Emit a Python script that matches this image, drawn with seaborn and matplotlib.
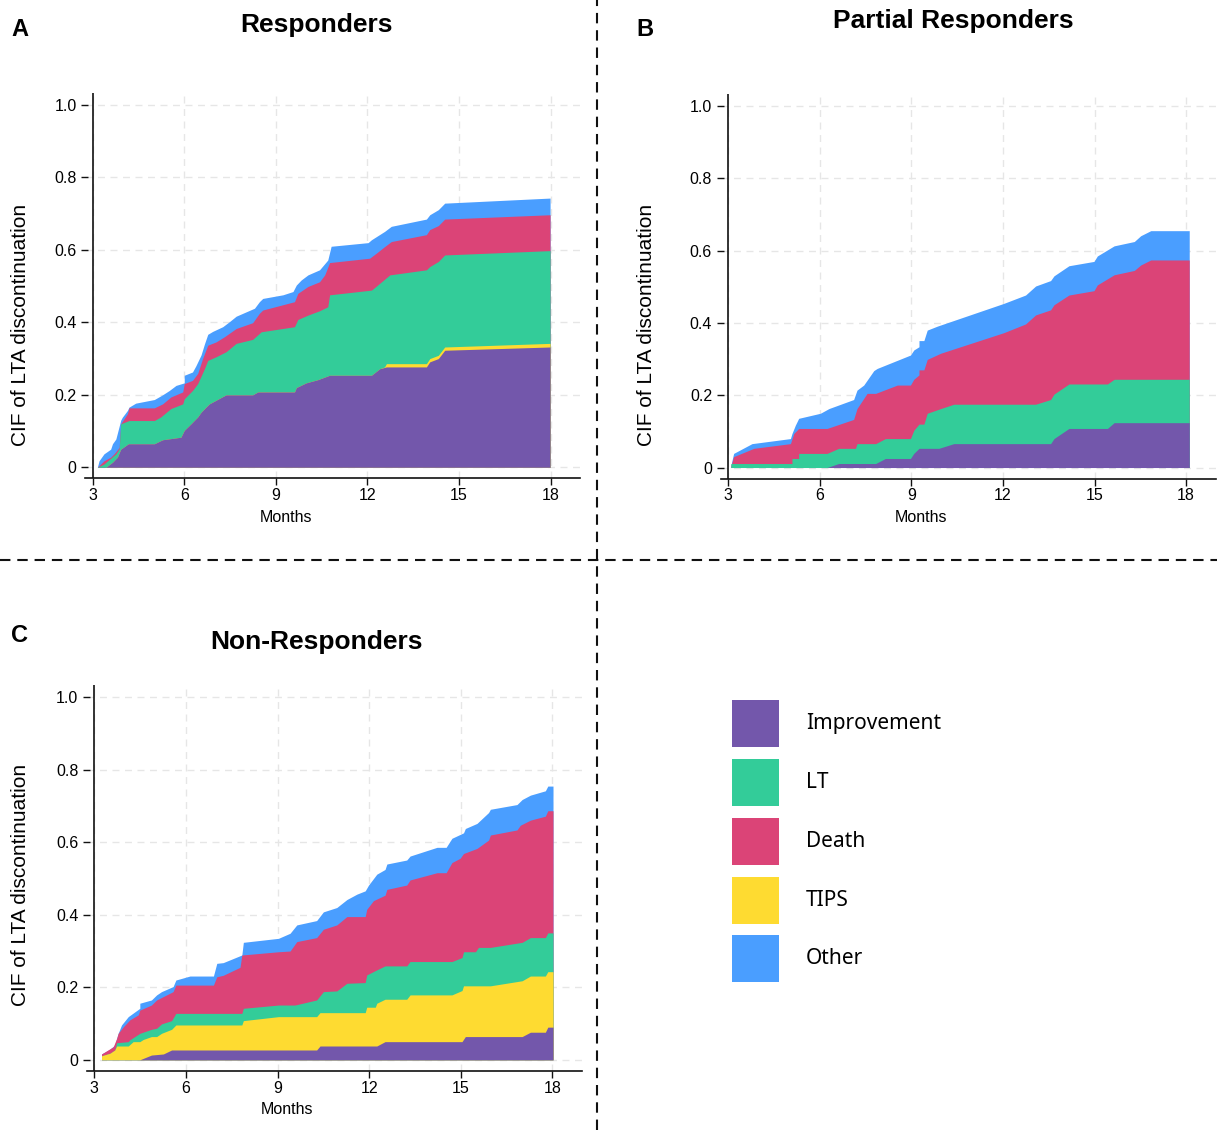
import matplotlib
matplotlib.use("Agg")
import matplotlib.pyplot as plt
import seaborn as sns
from matplotlib.patches import Rectangle
from matplotlib.lines import Line2D

# ---------------------------------------------------------------- data
# Each list holds (month, stacked upper edge of that cause's band).
# Stack from bottom: Improvement, TIPS, LT, Death, Other.

# Panel A - Responders
resp_other = [(3.155, 0), (3.21, 0.018), (3.37, 0.037), (3.59, 0.05), (3.65, 0.065), (3.76, 0.078),
              (3.92, 0.13), (3.97, 0.138), (4.14, 0.157), (4.19, 0.166), (4.41, 0.177), (5.02, 0.187),
              (5.29, 0.2), (5.51, 0.212), (5.73, 0.226), (6.0, 0.233), (6.0, 0.254), (6.27, 0.263),
              (6.38, 0.28), (6.55, 0.31), (6.66, 0.34), (6.77, 0.367), (6.93, 0.375), (7.26, 0.388),
              (7.48, 0.402), (7.70, 0.417), (8.30, 0.439), (8.46, 0.457), (8.57, 0.466), (9.23, 0.476),
              (9.56, 0.485), (9.67, 0.503), (9.83, 0.517), (10.05, 0.531), (10.43, 0.545), (10.70, 0.572),
              (10.81, 0.61), (12.02, 0.62), (12.13, 0.628), (12.56, 0.651), (12.78, 0.665), (13.93, 0.685),
              (14.04, 0.697), (14.32, 0.711), (14.53, 0.729), (17.98, 0.743)]
resp_death = [(3.155, 0), (3.37, 0.018), (3.59, 0.028), (3.70, 0.037), (3.87, 0.055), (3.92, 0.12),
              (4.14, 0.148), (4.19, 0.164), (5.02, 0.164), (5.29, 0.175), (5.56, 0.194), (5.95, 0.208),
              (6.0, 0.231), (6.27, 0.24), (6.44, 0.259), (6.60, 0.30), (6.77, 0.337), (7.04, 0.346),
              (7.31, 0.36), (7.70, 0.383), (8.24, 0.399), (8.46, 0.425), (8.57, 0.434), (9.61, 0.457),
              (9.72, 0.48), (10.05, 0.499), (10.43, 0.512), (10.60, 0.531), (10.76, 0.565), (12.07, 0.577),
              (12.29, 0.591), (12.56, 0.609), (12.78, 0.623), (13.93, 0.642), (14.04, 0.656),
              (14.32, 0.667), (14.53, 0.685), (17.98, 0.697)]
resp_lt = [(3.155, 0), (3.37, 0.009), (3.76, 0.037), (3.87, 0.051), (3.92, 0.12), (4.19, 0.129),
           (5.02, 0.129), (5.23, 0.139), (5.56, 0.162), (5.95, 0.175), (6.0, 0.189), (6.27, 0.212),
           (6.44, 0.231), (6.66, 0.272), (6.77, 0.295), (7.04, 0.305), (7.37, 0.319), (7.70, 0.342),
           (8.24, 0.353), (8.52, 0.374), (9.61, 0.388), (9.72, 0.408), (10.05, 0.42), (10.43, 0.432),
           (10.70, 0.443), (10.76, 0.476), (12.13, 0.489), (12.29, 0.50), (12.73, 0.531), (13.93, 0.545),
           (14.04, 0.554), (14.32, 0.568), (14.53, 0.586), (17.98, 0.598)]
resp_tips = [(3.43, 0), (3.65, 0.014), (3.81, 0.028), (3.92, 0.05), (4.17, 0.065), (5.02, 0.065),
             (5.29, 0.076), (5.89, 0.083), (6.0, 0.102), (6.22, 0.12), (6.44, 0.139), (6.55, 0.152),
             (6.71, 0.166), (6.82, 0.175), (7.37, 0.2), (8.24, 0.2), (8.41, 0.208), (9.61, 0.208),
             (9.67, 0.22), (9.99, 0.233), (10.38, 0.242), (10.76, 0.254), (12.13, 0.254), (12.40, 0.272),
             (12.56, 0.277), (12.62, 0.286), (13.93, 0.286), (14.04, 0.30), (14.32, 0.309),
             (14.53, 0.332), (17.98, 0.342)]
resp_improvement = [(3.43, 0), (3.65, 0.014), (3.81, 0.028), (3.92, 0.05), (4.17, 0.065), (5.02, 0.065),
                    (5.29, 0.076), (5.89, 0.083), (6.0, 0.102), (6.22, 0.12), (6.44, 0.139), (6.55, 0.152),
                    (6.71, 0.166), (6.82, 0.175), (7.37, 0.2), (8.24, 0.2), (8.41, 0.208), (9.61, 0.208),
                    (9.67, 0.22), (9.99, 0.233), (10.38, 0.242), (10.76, 0.254), (12.13, 0.254),
                    (12.40, 0.272), (12.62, 0.277), (13.93, 0.277), (14.04, 0.291), (14.32, 0.30),
                    (14.53, 0.323), (17.98, 0.332)]

# Panel B - Partial Responders
partial_other = [(3.09, 0.006), (3.18, 0.039), (3.78, 0.066), (5.04, 0.08), (5.09, 0.094), (5.20, 0.117),
                 (5.31, 0.136), (6.02, 0.15), (6.30, 0.163), (7.11, 0.188), (7.22, 0.214), (7.44, 0.228),
                 (7.77, 0.268), (7.88, 0.274), (8.97, 0.311), (9.08, 0.325), (9.25, 0.334), (9.25, 0.351),
                 (9.41, 0.351), (9.52, 0.38), (9.85, 0.391), (12.03, 0.454), (12.74, 0.477), (13.07, 0.502),
                 (13.56, 0.517), (13.67, 0.53), (14.16, 0.558), (14.98, 0.57), (15.09, 0.585),
                 (15.64, 0.613), (16.30, 0.625), (16.51, 0.641), (16.84, 0.655), (18.1, 0.655)]
partial_death = [(3.09, 0.004), (3.18, 0.03), (3.84, 0.053), (5.04, 0.066), (5.15, 0.094), (5.31, 0.108),
                 (6.24, 0.108), (7.11, 0.133), (7.22, 0.163), (7.55, 0.205), (7.83, 0.205), (8.54, 0.228),
                 (8.97, 0.228), (9.08, 0.244), (9.25, 0.256), (9.25, 0.27), (9.41, 0.27), (9.52, 0.299),
                 (9.96, 0.316), (12.03, 0.373), (12.74, 0.397), (13.07, 0.422), (13.56, 0.436),
                 (13.67, 0.45), (14.16, 0.477), (14.98, 0.489), (15.09, 0.505), (15.64, 0.533),
                 (16.30, 0.545), (16.51, 0.56), (16.84, 0.574), (18.1, 0.574)]
partial_lt = [(3.09, 0.011), (5.09, 0.011), (5.09, 0.025), (5.31, 0.025), (5.31, 0.039), (6.24, 0.039),
              (6.62, 0.053), (7.17, 0.053), (7.22, 0.066), (7.83, 0.066), (8.15, 0.08), (8.97, 0.08),
              (9.08, 0.103), (9.25, 0.12), (9.41, 0.12), (9.52, 0.15), (9.96, 0.163), (10.39, 0.175),
              (13.07, 0.175), (13.56, 0.188), (13.67, 0.203), (14.16, 0.231), (15.42, 0.231),
              (15.64, 0.244), (18.1, 0.244)]
partial_tips = []
partial_improvement = [(6.24, 0), (6.62, 0.011), (7.83, 0.011), (8.15, 0.025), (8.97, 0.025), (9.08, 0.039),
                       (9.25, 0.053), (9.90, 0.053), (10.39, 0.066), (13.56, 0.066), (13.67, 0.08),
                       (14.16, 0.108), (15.42, 0.108), (15.64, 0.124), (18.1, 0.124)]

# Panel C - Non-Responders
nonresp_other = [(3.235, 0.016), (3.51, 0.029), (3.67, 0.041), (3.78, 0.073), (3.89, 0.096), (4.11, 0.119),
                 (4.49, 0.142), (4.49, 0.156), (4.87, 0.165), (5.04, 0.179), (5.20, 0.188), (5.58, 0.202),
                 (5.67, 0.22), (6.13, 0.231), (6.90, 0.231), (7.01, 0.266), (7.22, 0.268), (7.83, 0.289),
                 (7.88, 0.324), (9.03, 0.335), (9.41, 0.349), (9.63, 0.372), (10.28, 0.384), (10.50, 0.408),
                 (10.94, 0.42), (11.27, 0.442), (11.60, 0.457), (11.87, 0.466), (11.98, 0.482),
                 (12.25, 0.512), (12.52, 0.525), (12.58, 0.54), (13.23, 0.551), (13.34, 0.562),
                 (14.22, 0.586), (14.52, 0.586), (14.71, 0.611), (15.09, 0.626), (15.15, 0.638),
                 (15.53, 0.652), (15.91, 0.682), (15.97, 0.691), (16.84, 0.704), (17.01, 0.718),
                 (17.28, 0.73), (17.77, 0.742), (17.85, 0.755), (18.02, 0.755)]
nonresp_death = [(3.235, 0.016), (3.62, 0.036), (3.73, 0.059), (3.78, 0.073), (3.95, 0.091), (4.16, 0.11),
                 (4.44, 0.124), (4.49, 0.137), (4.87, 0.151), (5.04, 0.165), (5.58, 0.188), (5.67, 0.206),
                 (6.90, 0.206), (7.01, 0.229), (7.22, 0.233), (7.77, 0.255), (7.83, 0.289), (9.03, 0.298),
                 (9.41, 0.30), (9.63, 0.326), (10.28, 0.337), (10.50, 0.36), (10.94, 0.372), (11.27, 0.395),
                 (11.87, 0.395), (11.92, 0.415), (12.14, 0.439), (12.52, 0.454), (12.58, 0.47),
                 (13.23, 0.482), (13.34, 0.496), (14.22, 0.516), (14.52, 0.516), (14.71, 0.544),
                 (14.98, 0.556), (15.09, 0.569), (15.53, 0.583), (15.91, 0.606), (15.97, 0.62),
                 (16.84, 0.634), (16.95, 0.647), (17.28, 0.661), (17.77, 0.672), (17.85, 0.687),
                 (18.02, 0.687)]
nonresp_lt = [(3.235, 0.011), (3.51, 0.018), (3.67, 0.027), (3.73, 0.047), (4.11, 0.05), (4.16, 0.055),
              (4.49, 0.073), (4.87, 0.084), (5.04, 0.087), (5.20, 0.099), (5.53, 0.108), (5.67, 0.128),
              (7.83, 0.128), (7.88, 0.142), (9.03, 0.151), (9.57, 0.151), (10.28, 0.165), (10.50, 0.188),
              (10.94, 0.19), (11.27, 0.211), (11.87, 0.213), (11.92, 0.234), (12.20, 0.246),
              (12.52, 0.259), (13.23, 0.259), (13.34, 0.271), (14.71, 0.271), (15.04, 0.282),
              (15.09, 0.298), (15.48, 0.298), (15.58, 0.31), (15.97, 0.31), (17.01, 0.324),
              (17.28, 0.337), (17.77, 0.337), (17.85, 0.35), (18.02, 0.35)]
nonresp_tips = [(3.235, 0.011), (3.51, 0.018), (3.67, 0.027), (3.73, 0.038), (4.11, 0.038), (4.27, 0.05),
                (4.49, 0.05), (4.60, 0.056), (4.87, 0.064), (5.04, 0.064), (5.20, 0.073), (5.53, 0.084),
                (5.67, 0.096), (7.83, 0.096), (7.88, 0.108), (9.03, 0.119), (10.28, 0.119), (10.39, 0.13),
                (11.87, 0.13), (11.92, 0.145), (12.20, 0.145), (12.25, 0.156), (12.52, 0.167),
                (13.23, 0.167), (13.34, 0.179), (14.71, 0.179), (15.04, 0.191), (15.09, 0.204),
                (15.97, 0.204), (17.01, 0.218), (17.28, 0.231), (17.77, 0.231), (17.85, 0.243),
                (18.02, 0.243)]
nonresp_improvement = [(4.49, 0), (4.87, 0.013), (5.26, 0.016), (5.53, 0.027), (10.28, 0.027),
                       (10.39, 0.038), (12.25, 0.038), (12.52, 0.05), (15.04, 0.05), (15.15, 0.064),
                       (17.01, 0.064), (17.28, 0.076), (17.77, 0.076), (17.85, 0.09), (18.02, 0.09)]

causes = ["Improvement", "LT", "Death", "TIPS", "Other"]
panel_titles = ["Responders", "Partial Responders", "Non-Responders"]
panel_letters = ["A", "B", "C"]
x_ticks = [3, 6, 9, 12, 15, 18]
y_ticks = [0, 0.2, 0.4, 0.6, 0.8, 1.0]
y_tick_labels = ["0", "0.2", "0.4", "0.6", "0.8", "1.0"]
x_label = "Months"
y_label = "CIF of LTA discontinuation"

# ---------------------------------------------------------------- style
colors = {"Improvement": "#7357AB", "LT": "#33CC99", "Death": "#DB4477",
          "TIPS": "#FEDB31", "Other": "#4A9EFF"}
draw_order = ["Other", "Death", "LT", "TIPS", "Improvement"]

sns.set_theme(style="white")
plt.rcParams["font.family"] = ["Liberation Sans", "DejaVu Sans"]
plt.rcParams["text.color"] = "black"
plt.rcParams["axes.labelcolor"] = "black"
plt.rcParams["xtick.color"] = "black"
plt.rcParams["ytick.color"] = "black"

W, H = 1217, 1130
fig = plt.figure(figsize=(W / 100, H / 100), dpi=100)
fig.patch.set_facecolor("white")


def px_axes(left, top, width, height):
    return fig.add_axes([left / W, 1 - (top + height) / H, width / W, height / H])


def ftext(x, y, s, **kw):
    fig.text(x / W, 1 - y / H, s, **kw)


def draw_panel(ax, series):
    for cause in draw_order:
        pts = series[cause]
        if not pts:
            continue
        t = [p[0] for p in pts]
        v = [p[1] for p in pts]
        ax.fill_between(t, 0, v, color=colors[cause], lw=0, zorder=2)
    ax.set_xlim(2.75, 18.96)
    ax.set_ylim(-0.0304, 1.033)
    ax.set_xticks(x_ticks)
    ax.set_xticklabels([str(x) for x in x_ticks])
    ax.set_yticks(y_ticks)
    ax.set_yticklabels(y_tick_labels)
    ax.set_axisbelow(True)
    ax.grid(True, color="#e6e6e6", ls=(0, (5, 4)), lw=1.0)
    sns.despine(ax=ax, top=True, right=True)
    ax.spines["left"].set_visible(False)
    ax.spines["left"].set_position(("data", 2.86))
    ax.spines["bottom"].set_linewidth(1.2)
    ax.spines["bottom"].set_color("#111111")
    ax.axvline(3, color="#111111", lw=1.2, zorder=5)
    ax.tick_params(axis="both", which="both", direction="out", length=5, width=1,
                   color="#111111", labelsize=11.5, labelcolor="black")
    ax.tick_params(axis="y", pad=3.5, left=True)
    ax.tick_params(axis="x", pad=2, bottom=True)
    ax.set_facecolor("white")


panels = [
    dict(rect=(85, 93, 495, 385.3),
         series={"Improvement": resp_improvement, "TIPS": resp_tips, "LT": resp_lt,
                 "Death": resp_death, "Other": resp_other}),
    dict(rect=(720.5, 94, 495, 384.5),
         series={"Improvement": partial_improvement, "TIPS": partial_tips, "LT": partial_lt,
                 "Death": partial_death, "Other": partial_other}),
    dict(rect=(86.7, 685.3, 495, 385.5),
         series={"Improvement": nonresp_improvement, "TIPS": nonresp_tips, "LT": nonresp_lt,
                 "Death": nonresp_death, "Other": nonresp_other}),
]

for p in panels:
    ax = px_axes(*p["rect"])
    draw_panel(ax, p["series"])

# titles, letters, axis labels
title_pos = [(316, 25), (953, 21), (316, 642)]
letter_pos = [(20, 30), (645, 30), (20, 636)]
ylab_pos = [(21, 325), (646, 325), (21, 885)]
xlab_pos = [(286, 517), (921, 517), (287, 1109)]
for i in range(3):
    ftext(*title_pos[i], panel_titles[i], ha="center", va="center", fontsize=19,
          fontweight="bold", color="black")
    ftext(*letter_pos[i], panel_letters[i], ha="center", va="center", fontsize=17,
          fontweight="bold", color="black")
    ftext(*ylab_pos[i], y_label, ha="center", va="center", rotation=90, fontsize=15, color="black")
    ftext(*xlab_pos[i], x_label, ha="center", va="center", fontsize=11.5, color="black")

# separators
fig.add_artist(Line2D([597 / W, 597 / W], [0, 1], transform=fig.transFigure,
                      color="#111111", lw=1.5, ls=(0, (5, 3.3))))
fig.add_artist(Line2D([0, 1], [1 - 560 / H, 1 - 560 / H], transform=fig.transFigure,
                      color="#111111", lw=1.5, ls=(0, (5, 3.3))))

# legend
row_tops = [700, 759, 818, 877, 935]
for cause, top in zip(causes, row_tops):
    fig.add_artist(Rectangle((732 / W, 1 - (top + 47) / H), 47 / W, 47 / H,
                             transform=fig.transFigure, facecolor=colors[cause], lw=0))
    fig.text(806 / W, 1 - (top + 23.5) / H, cause, ha="left", va="center",
             fontsize=15, family=["Noto Sans", "DejaVu Sans"], color="black")

fig.savefig("out.png", dpi=100, facecolor="white")
